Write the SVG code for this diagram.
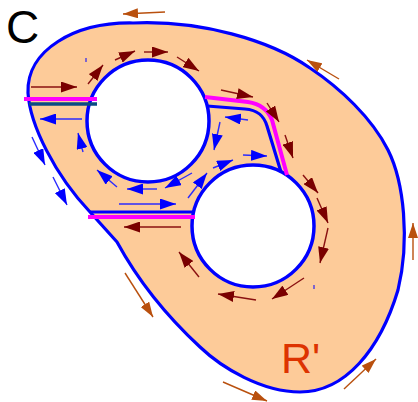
<svg xmlns="http://www.w3.org/2000/svg" width="418" height="402" viewBox="0 0 418 402">
<defs>
<style>
.region{fill:#fdcb99;stroke:#0000ff;stroke-width:3.2;stroke-linejoin:round}
.hole{fill:#ffffff;stroke:#0000ff;stroke-width:3.5}
.cut{fill:none;stroke:#ff00ff;stroke-width:4}
.bl{fill:none;stroke:#0000ff;stroke-width:3.2}
.dk{fill:none;stroke:#0b4a84;stroke-width:3.5}
.am{stroke:#8a1010;stroke-width:1.4;marker-end:url(#hm)}
.ab{stroke:#2a2aff;stroke-width:1.4;marker-end:url(#hb)}
.ao{stroke:#b9500e;stroke-width:1.4;marker-end:url(#ho)}
.lbl{font-family:"Liberation Sans",Arial,sans-serif}
</style>
<marker id="hm" markerUnits="userSpaceOnUse" markerWidth="17" markerHeight="11" refX="16" refY="5.5" orient="auto" viewBox="0 0 17 11"><path d="M0,0 L16,5.5 L0,11 Z" fill="#7a0000"/></marker>
<marker id="hb" markerUnits="userSpaceOnUse" markerWidth="17" markerHeight="11" refX="16" refY="5.5" orient="auto" viewBox="0 0 17 11"><path d="M0,0 L16,5.5 L0,11 Z" fill="#0000ff"/></marker>
<marker id="ho" markerUnits="userSpaceOnUse" markerWidth="16" markerHeight="10" refX="15" refY="5" orient="auto" viewBox="0 0 16 10"><path d="M0,0 L15,5 L0,10 Z" fill="#b9500e"/></marker>
</defs>

<g id="region-R">
<path class="region" d="M90,212 C55,175 30,125 28,93 C26,50 75,22 133,23 C200,20 270,40 310,68 C340,88 372,118 388,150 C404,182 410,240 398,290 C380,350 345,392 300,392 C262,392 222,368 200,347 C160,310 135,275 117,242 Z"/>
</g>
<g id="hole-1"><circle class="hole" cx="148" cy="121" r="61"/></g>
<g id="hole-2"><circle class="hole" cx="253" cy="226" r="61"/></g>

<g id="cuts">
<path class="bl" d="M207,106 L245,109 C258,110 264,116 267,126 L281,172"/>
<path class="cut" d="M205,97 L248,102 C261,104 268,110 272,120 L287,175"/>
<line class="dk" x1="29" y1="104" x2="97" y2="104"/>
<line class="cut" x1="24" y1="99" x2="97" y2="99"/>
<line class="bl" x1="90" y1="212" x2="193" y2="212"/>
<line class="cut" x1="88" y1="217" x2="195" y2="217"/>
</g>

<g id="connectors">
<line class="ao" x1="165" y1="12" x2="123" y2="14"/>
<line class="ao" x1="339" y1="79" x2="307" y2="60"/>
<line class="ao" x1="413" y1="260" x2="413" y2="223"/>
<line class="ao" x1="344" y1="389" x2="376" y2="359"/>
<line class="ao" x1="223" y1="382" x2="267" y2="401"/>
<line class="ao" x1="125" y1="273" x2="153" y2="317"/>

<line class="am" x1="31" y1="87" x2="77" y2="87"/>
<line class="am" x1="88" y1="84" x2="103" y2="65"/>
<line class="am" x1="115" y1="60" x2="135" y2="51"/>
<line class="am" x1="144" y1="52" x2="168" y2="52"/>
<line class="am" x1="177" y1="57" x2="199" y2="71"/>
<line class="am" x1="221" y1="90" x2="253" y2="97"/>
<line class="am" x1="267" y1="103" x2="279" y2="122"/>
<line class="am" x1="285" y1="135" x2="293" y2="158"/>
<line class="am" x1="303" y1="175" x2="318" y2="193"/>
<line class="am" x1="317" y1="198" x2="328" y2="223"/>
<line class="am" x1="328" y1="228" x2="320" y2="263"/>
<line class="am" x1="304" y1="278" x2="272" y2="299"/>
<line class="am" x1="256" y1="300" x2="218" y2="294"/>
<line class="am" x1="199" y1="277" x2="179" y2="252"/>
<line class="am" x1="181" y1="227" x2="124" y2="227"/>

<line class="ab" x1="82" y1="119" x2="40" y2="119"/>
<line class="ab" x1="32" y1="137" x2="45" y2="165"/>
<line class="ab" x1="53" y1="177" x2="67" y2="205"/>
<line class="ab" x1="83" y1="152" x2="78" y2="133"/>
<line class="ab" x1="117" y1="187" x2="97" y2="170"/>
<line class="ab" x1="157" y1="189" x2="127" y2="189"/>
<line class="ab" x1="192" y1="173" x2="165" y2="188"/>
<line class="ab" x1="119" y1="204" x2="176" y2="204"/>
<line class="ab" x1="188" y1="198" x2="207" y2="173"/>
<line class="ab" x1="248" y1="120" x2="225" y2="117"/>
<line class="ab" x1="220" y1="122" x2="214" y2="150"/>
<line class="ab" x1="243" y1="155" x2="267" y2="156"/>
<line class="ab" x1="213" y1="168" x2="233" y2="160"/>
<line x1="86" y1="58" x2="86" y2="62" stroke="#0000ff" stroke-width="1"/>
<line x1="314" y1="285" x2="314" y2="289" stroke="#0000ff" stroke-width="1"/>
</g>

<g id="labels">
<text class="lbl" x="6" y="43" font-size="46" fill="#000000">C</text>
<text class="lbl" x="281" y="373" font-size="43" fill="#dd3300">R'</text>
</g>
</svg>
